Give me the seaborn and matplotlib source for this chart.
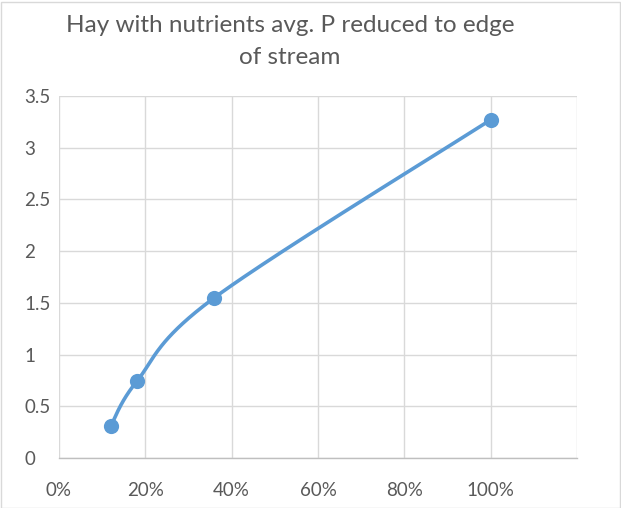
import numpy as np
import pandas as pd
import matplotlib
matplotlib.use("Agg")
import matplotlib.pyplot as plt
import seaborn as sns
from matplotlib.ticker import FixedLocator, FuncFormatter

# Data
x_vals = [0.12, 0.18, 0.36, 1.00]
y_vals = [0.31, 0.74, 1.55, 3.27]
title = "Hay with nutrients avg. P reduced to edge\nof stream"
x_ticks = [0.0, 0.2, 0.4, 0.6, 0.8, 1.0, 1.2]
x_labels = ["0%", "20%", "40%", "60%", "80%", "100%", ""]
y_ticks = [0, 0.5, 1, 1.5, 2, 2.5, 3, 3.5]

sns.set_theme(style="white")
plt.rcParams['font.family'] = ['Lato', 'DejaVu Sans']

W, H = 621, 508
fig = plt.figure(figsize=(W / 100, H / 100), dpi=100)
ax = fig.add_axes([59 / W, 1 - 458 / H, (577 - 59) / W, (458 - 96) / H])

xmin, xmax, ymin, ymax = 0, 1.2, 0, 3.5
pw, ph = 577 - 59, 458 - 96

# Excel-like smoothed curve (Bezier with Catmull-Rom control points, in pixel space)
P = np.array([[(x - xmin) / (xmax - xmin) * pw, (y - ymin) / (ymax - ymin) * ph]
              for x, y in zip(x_vals, y_vals)])
n = len(P)
curve = []
t = np.linspace(0, 1, 60)
for i in range(n - 1):
    p0 = P[i - 1] if i > 0 else P[i]
    p1 = P[i]
    p2 = P[i + 1]
    p3 = P[i + 2] if i + 2 < n else P[i + 1]
    c1 = p1 + (p2 - p0) / 6
    c2 = p2 - (p3 - p1) / 6
    seg = ((1 - t) ** 3)[:, None] * p1 + (3 * (1 - t) ** 2 * t)[:, None] * c1 \
        + (3 * (1 - t) * t ** 2)[:, None] * c2 + (t ** 3)[:, None] * p2
    curve.append(seg if i == 0 else seg[1:])
curve = np.vstack(curve)
cx = curve[:, 0] / pw * (xmax - xmin) + xmin
cy = curve[:, 1] / ph * (ymax - ymin) + ymin
curve_df = pd.DataFrame({"x": cx, "y": cy, "o": np.arange(len(cx))})
pts_df = pd.DataFrame({"x": x_vals, "y": y_vals})

color = "#5B9BD5"
sns.lineplot(data=curve_df, x="x", y="y", sort=False, estimator=None, ax=ax,
             color=color, linewidth=2.6, zorder=3)
sns.scatterplot(data=pts_df, x="x", y="y", ax=ax, color=color, s=120,
                edgecolor=color, linewidth=0, zorder=4)

ax.set_xlim(xmin, xmax)
ax.set_ylim(ymin, ymax)
ax.xaxis.set_major_locator(FixedLocator(x_ticks))
ax.set_xticklabels(x_labels)
ax.yaxis.set_major_locator(FixedLocator(y_ticks))
ax.yaxis.set_major_formatter(FuncFormatter(lambda v, p: f"{v:g}"))
ax.grid(True, color="#D9D9D9", linewidth=1)
ax.set_axisbelow(True)
for s in ["top", "right", "left"]:
    ax.spines[s].set_visible(False)
ax.spines["bottom"].set_color("#BFBFBF")
ax.spines["bottom"].set_linewidth(1)
ax.tick_params(axis="both", length=0, labelsize=13.5, colors="#595959")
ax.tick_params(axis="x", pad=17)
ax.tick_params(axis="y", pad=25)
for lab in ax.get_yticklabels():
    lab.set_horizontalalignment("left")
ax.set_xlabel("")
ax.set_ylabel("")

fig.text(290 / W, 1 - 41.5 / H, title, ha="center", va="center", fontsize=17.5,
         color="#595959", linespacing=1.6)

fig.patches.append(plt.Rectangle((0.5 / W, 0.5 / H), 1 - 2 / W, 1 - 2 / H,
                                 transform=fig.transFigure, fill=False,
                                 edgecolor="#D9D9D9", linewidth=1))

fig.savefig("out.png", dpi=100)
